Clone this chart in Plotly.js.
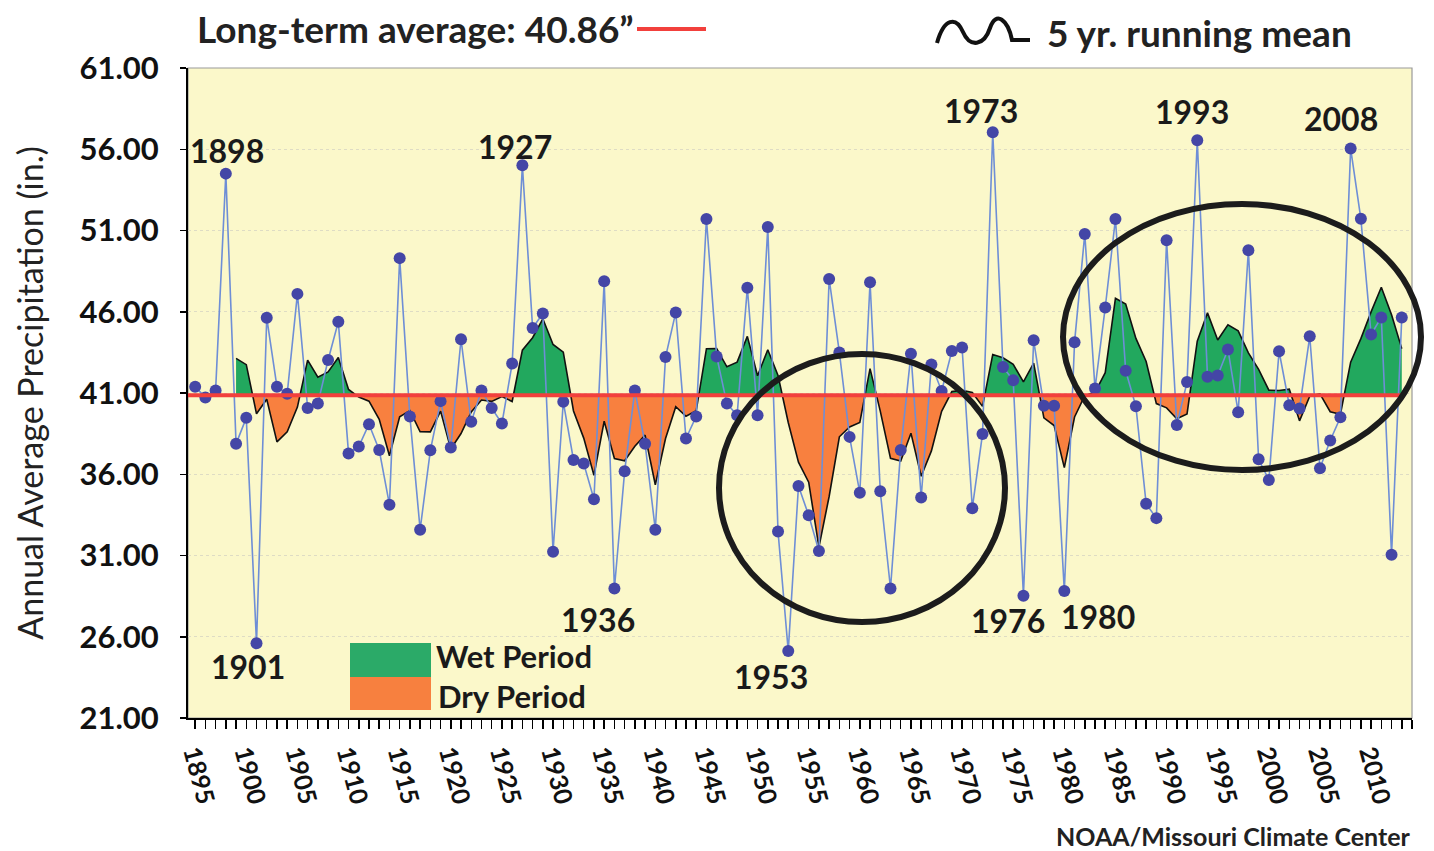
<!DOCTYPE html>
<html><head><meta charset="utf-8">
<script src="https://cdn.plot.ly/plotly-3.0.1.min.js"></script>
<style>html,body{margin:0;padding:0;background:#fff;} #chart{width:1434px;height:851px;}</style>
</head><body><div id="chart"></div>
<script>
// ---------------- DATA ----------------
const startYear = 1895;
const precip = [
  41.38, 40.73, 41.16, 54.50, 37.87, 39.47, 25.60, 45.63, 41.38, 40.95, // 1895-1904
  47.10, 40.07, 40.35, 43.03, 45.38, 37.27, 37.71, 39.08, 37.49, 34.13, // 1905-1914
  49.30, 39.56, 32.59, 37.47, 40.50, 37.65, 44.31, 39.23, 41.16, 40.07, // 1915-1924
  39.12, 42.81, 55.01, 45.00, 45.89, 31.23, 40.46, 36.88, 36.66, 34.46, // 1925-1934
  47.87, 28.97, 36.18, 41.16, 37.87, 32.59, 43.21, 45.96, 38.20, 39.56, // 1935-1944
  51.71, 43.25, 40.35, 39.63, 47.47, 39.63, 51.21, 32.48, 25.12, 35.27, // 1945-1954
  33.47, 31.27, 48.02, 43.50, 38.30, 34.86, 47.82, 34.95, 28.97, 37.49, // 1955-1964
  43.41, 34.57, 42.75, 41.12, 43.58, 43.80, 33.91, 38.48, 57.05, 42.60, // 1965-1974
  41.78, 28.53, 44.24, 40.22, 40.22, 28.81, 44.13, 50.79, 41.27, 46.26, // 1975-1984
  51.71, 42.37, 40.18, 34.18, 33.30, 50.40, 39.03, 41.67, 56.55, 42.00, // 1985-1994
  42.07, 43.68, 39.82, 49.79, 36.92, 35.65, 43.57, 40.25, 40.04, 44.49, // 1995-2004
  36.37, 38.08, 39.51, 56.04, 51.72, 44.60, 45.65, 31.04, 45.65          // 2005-2013
];
const longTermAverage = 40.86;
const runningWindow = 5;
const tickYears = [1895,1900,1905,1910,1915,1920,1925,1930,1935,1940,1945,1950,1955,1960,1965,1970,1975,1980,1985,1990,1995,2000,2005,2010];
const yTicks = [21,26,31,36,41,46,51,56,61];
const labelledYears = [1898,1901,1927,1936,1953,1973,1976,1980,1993,2008];

// ---------------- DERIVED ----------------
const years = precip.map((_, i) => startYear + i);
// trailing 5-yr running mean
const rmX = [], rmY = [];
for (let i = runningWindow - 1; i < precip.length; i++) {
  let s = 0;
  for (let k = i - runningWindow + 1; k <= i; k++) s += precip[k];
  rmX.push(years[i]); rmY.push(s / runningWindow);
}
// insert crossing points with the long-term average for clean fills
const fx = [], fy = [];
for (let i = 0; i < rmX.length; i++) {
  if (i > 0) {
    const a = rmY[i-1] - longTermAverage, b = rmY[i] - longTermAverage;
    if (a * b < 0) { const t = a / (a - b); fx.push(rmX[i-1] + t * (rmX[i] - rmX[i-1])); fy.push(longTermAverage); }
  }
  fx.push(rmX[i]); fy.push(rmY[i]);
}
const base = fx.map(() => longTermAverage);
const wetY = fy.map(v => Math.max(v, longTermAverage));
const dryY = fy.map(v => Math.min(v, longTermAverage));

// ---------------- STYLE / LAYOUT ----------------
const FONT = 'Lato, "Open Sans", sans-serif';
const GREEN = '#22A85E', ORANGE = '#F8803F';
const L = 188, R = 1412, T = 68, B = 718;
const PX = p => (p - L) / (R - L);
const PY = p => (B - p) / (B - T);

const traces = [
  {x: fx, y: base, mode: 'lines', line: {width: 0}, hoverinfo: 'skip', showlegend: false},
  {x: fx, y: wetY, mode: 'lines', line: {width: 0}, fill: 'tonexty', fillcolor: GREEN, hoverinfo: 'skip', showlegend: false},
  {x: fx, y: base, mode: 'lines', line: {width: 0}, hoverinfo: 'skip', showlegend: false},
  {x: fx, y: dryY, mode: 'lines', line: {width: 0}, fill: 'tonexty', fillcolor: ORANGE, hoverinfo: 'skip', showlegend: false},
  {x: rmX, y: rmY, mode: 'lines', line: {color: '#111', width: 1.6}, showlegend: false},
  {x: years, y: precip, mode: 'lines+markers', line: {color: '#6E8ED6', width: 1.6},
   marker: {color: '#4446A6', size: 12}, showlegend: false}
];

// labelled extreme years
const labelOffsets = {1898:[1,23],1901:[-9,-23],1927:[-7,19],1936:[-16,-31],1953:[-17,-25],
  1973:[-12,22],1976:[-15,-25],1980:[34,-25],1993:[-5,29],2008:[-10,30]};
const annotations = labelledYears.map(yr => ({
  x: yr, y: precip[yr - startYear], xref: 'x', yref: 'y', text: String(yr), showarrow: false,
  xshift: labelOffsets[yr][0], yshift: labelOffsets[yr][1],
  font: {family: FONT, size: 32, color: '#1a1a1a', weight: 'bold'}
}));
annotations.push(
  {xref:'paper', yref:'paper', x: PX(195), y: PY(29), xanchor:'left', yanchor:'middle', showarrow:false,
   text: 'Long-term average: 40.86\u201D', font:{family: FONT, size: 37, color:'#222', weight:'bold'}},
  {xref:'paper', yref:'paper', x: PX(1045), y: PY(32), xanchor:'left', yanchor:'middle', showarrow:false,
   text: '5 yr. running mean', font:{family: FONT, size: 37, color:'#222', weight:'bold'}},
  {xref:'paper', yref:'paper', x: PX(434), y: PY(656), xanchor:'left', yanchor:'middle', showarrow:false,
   text: 'Wet Period', font:{family: FONT, size: 31, color:'#1a1a1a', weight:'bold'}},
  {xref:'paper', yref:'paper', x: PX(436), y: PY(696), xanchor:'left', yanchor:'middle', showarrow:false,
   text: 'Dry Period', font:{family: FONT, size: 31, color:'#1a1a1a', weight:'bold'}},
  {xref:'paper', yref:'paper', x: PX(1413), y: PY(836), xanchor:'right', yanchor:'middle', showarrow:false,
   text: 'NOAA/Missouri Climate Center', font:{family: FONT, size: 25, color:'#222', weight:'bold'}}
);

// squiggle legend icon path (paper coords)
const sq = [[937,43],[944,18],[956,16],[963,32],[970,48],[984,46],[990,28],[996,10],[1008,20],[1012,40],[1030,40]];
const sqPath = 'M ' + PX(sq[0][0]) + ',' + PY(sq[0][1]) +
  ' C ' + [sq[1],sq[2],sq[3]].map(p => PX(p[0]) + ',' + PY(p[1])).join(' ') +
  ' C ' + [sq[4],sq[5],sq[6]].map(p => PX(p[0]) + ',' + PY(p[1])).join(' ') +
  ' C ' + [sq[7],sq[8],sq[9]].map(p => PX(p[0]) + ',' + PY(p[1])).join(' ') +
  ' L ' + PX(sq[10][0]) + ',' + PY(sq[10][1]);

const shapes = [
  {type:'rect', xref:'paper', yref:'paper', x0:0, x1:1, y0:0, y1:1, line:{color:'#9a9a9a', width:1.2}, layer:'below'},
  {type:'line', xref:'paper', yref:'y', x0:0, x1:0.993, y0:longTermAverage, y1:longTermAverage, line:{color:'#F2403C', width:4}, layer:'above'},
  {type:'line', xref:'paper', yref:'paper', x0:PX(637), x1:PX(706), y0:PY(29), y1:PY(29), line:{color:'#F2403C', width:4}},
  {type:'path', xref:'paper', yref:'paper', path: sqPath, line:{color:'#111', width:4}},
  {type:'circle', xref:'paper', yref:'paper', x0:PX(719), x1:PX(1005), y0:PY(622), y1:PY(354), line:{color:'#1c1c1c', width:6}},
  {type:'circle', xref:'paper', yref:'paper', x0:PX(1063), x1:PX(1421), y0:PY(470), y1:PY(204), line:{color:'#1c1c1c', width:6}},
  {type:'rect', xref:'paper', yref:'paper', x0:PX(350), x1:PX(431), y0:PY(677), y1:PY(643), fillcolor:'#2BAA68', line:{width:0}},
  {type:'rect', xref:'paper', yref:'paper', x0:PX(350), x1:PX(431), y0:PY(710), y1:PY(677), fillcolor:'#F7803F', line:{width:0}}
];

const layout = {
  width: 1434, height: 851,
  margin: {l: L, r: 1434 - R, t: T, b: 851 - B},
  paper_bgcolor: '#ffffff', plot_bgcolor: '#FBF8CA',
  font: {family: FONT, color: '#1a1a1a'},
  showlegend: false,
  xaxis: {
    range: [1894.3, 2014], tickmode: 'array', tickvals: tickYears, ticktext: tickYears.map(String),
    tickangle: 75, ticks: 'outside', ticklen: 9, tickwidth: 1.5, tickcolor: '#000',
    minor: {ticks: 'outside', tickmode: 'linear', tick0: startYear, dtick: 1, ticklen: 9, tickwidth: 1.5, tickcolor: '#000'},
    showline: true, linecolor: '#000', linewidth: 2, showgrid: false, zeroline: false,
    tickfont: {family: FONT, size: 25, color: '#111', weight: 'bold'}
  },
  yaxis: {
    range: [21, 61], tickmode: 'array', tickvals: yTicks, ticktext: yTicks.map(v => v.toFixed(2)),
    ticks: 'outside', ticklen: 6, tickwidth: 1.5, tickcolor: '#000', ticklabelstandoff: 15,
    showline: true, linecolor: '#000', linewidth: 2, showgrid: true, gridcolor: '#DEDCC4', griddash: 'dot', gridwidth: 1,
    zeroline: false,
    tickfont: {family: FONT, size: 31, color: '#111', weight: 'bold'},
    title: {text: 'Annual Average Precipitation (in.)', font: {family: FONT, size: 34, color: '#222'}, standoff: 26}
  },
  shapes: shapes,
  annotations: annotations
};

Plotly.newPlot('chart', traces, layout, {displayModeBar: false, staticPlot: true});
</script></body></html>
